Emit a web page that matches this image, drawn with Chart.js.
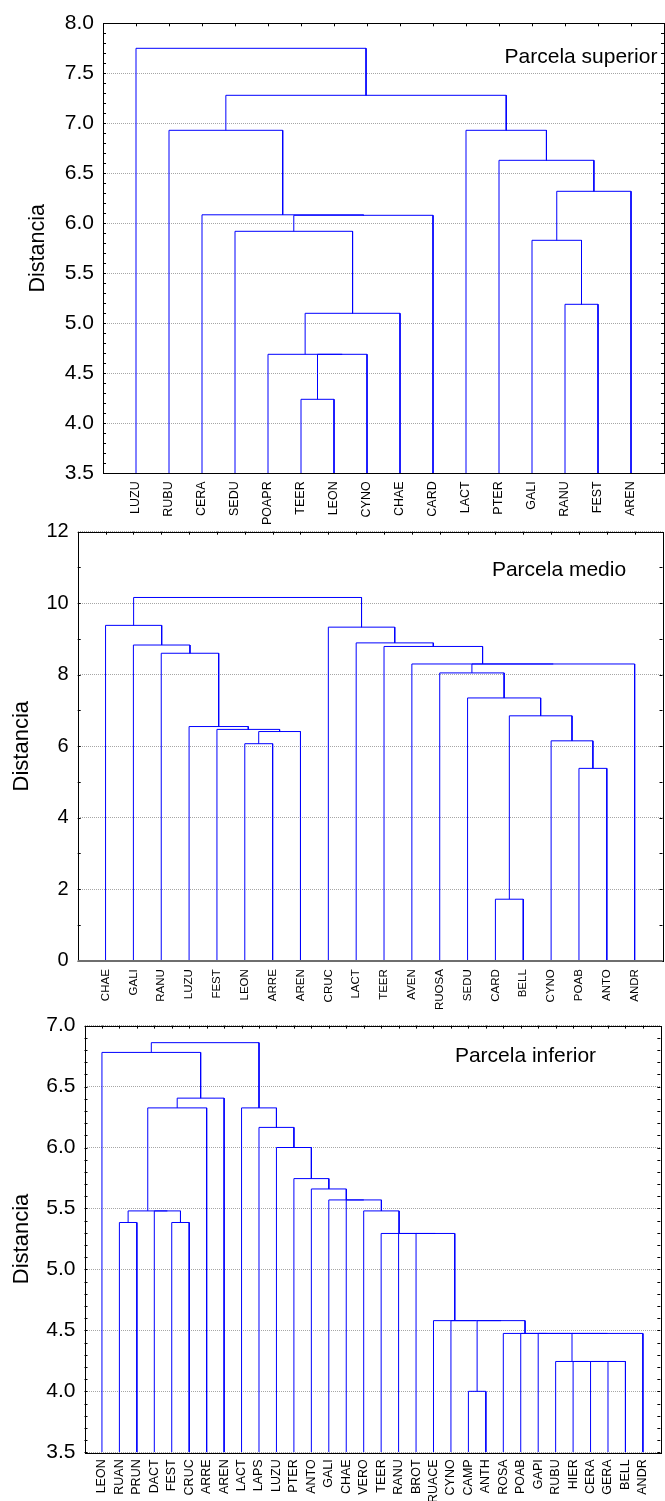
<!DOCTYPE html>
<html>
<head>
<meta charset="utf-8">
<script src="https://cdn.jsdelivr.net/npm/chart.js@4.4.0/dist/chart.umd.min.js"></script>
<style>
body { margin: 0; background: #fff; }
#wrap { position: relative; width: 665px; height: 1501px; overflow: hidden; }
canvas { position: absolute; left: 0; }
</style>
</head>
<body>
<div id="wrap">
  <canvas id="c1"></canvas>
  <canvas id="c2"></canvas>
  <canvas id="c3"></canvas>
</div>
<script>
// Parcela superior: leaves in plotted order, joins (leaf index or earlier join n+k) and join distances
const supLeaves = ['LUZU', 'RUBU', 'CERA', 'SEDU', 'POAPR', 'TEER', 'LEON', 'CYNO', 'CHAE', 'CARD',
                   'LACT', 'PTER', 'GALI', 'RANU', 'FEST', 'AREN'];
const supPairs = [[5, 6], [16, 7], [4, 17], [18, 8], [3, 19], [20, 9], [2, 21], [1, 22],
                  [13, 14], [12, 24], [25, 15], [11, 26], [10, 27], [23, 28], [0, 29]];
const supHeights = [4.24, 4.69, 4.69, 5.10, 5.92, 6.08, 6.085, 6.93,
                    5.19, 5.83, 6.32, 6.63, 6.93, 7.28, 7.75];

// Parcela medio
const medLeaves = ['CHAE', 'GALI', 'RANU', 'LUZU', 'FEST', 'LEON', 'ARRE', 'AREN', 'CRUC', 'LACT',
                   'TEER', 'AVEN', 'RUOSA', 'SEDU', 'CARD', 'BELL', 'CYNO', 'POAB', 'ANTO', 'ANDR'];
const medPairs = [[5, 6], [20, 7], [4, 21], [3, 22], [2, 23], [1, 24], [0, 25],
                  [17, 18], [16, 27], [14, 15], [29, 28], [13, 30], [12, 31], [32, 19],
                  [11, 33], [10, 34], [9, 35], [8, 36], [26, 37]];
const medHeights = [6.07, 6.41, 6.47, 6.55, 8.60, 8.83, 9.38,
                    5.38, 6.15, 1.72, 6.85, 7.35, 8.05, 8.30,
                    8.30, 8.79, 8.89, 9.33, 10.16];

// Parcela inferior
const infLeaves = ['LEON', 'RUAN', 'PRUN', 'DACT', 'FEST', 'CRUC', 'ARRE', 'AREN', 'LACT', 'LAPS',
                   'LUZU', 'PTER', 'ANTO', 'GALI', 'CHAE', 'VERO', 'TEER', 'RANU', 'BROT', 'RUACE',
                   'CYNO', 'CAMP', 'ANTH', 'ROSA', 'POAB', 'GAPI', 'RUBU', 'HIER', 'CERA', 'GERA',
                   'BELL', 'ANDR'];
const infPairs = [[1, 2], [4, 5], [3, 33], [32, 34], [35, 6], [36, 7], [0, 37],
                  [21, 22], [29, 30], [28, 40], [27, 41], [26, 42], [43, 31], [25, 44],
                  [24, 45], [23, 46], [39, 47], [20, 48], [19, 49], [18, 50], [17, 51],
                  [16, 52], [15, 53], [14, 54], [13, 55], [12, 56], [11, 57], [10, 58],
                  [9, 59], [8, 60], [38, 61]];
const infHeights = [5.385, 5.385, 5.48, 5.48, 6.325, 6.405, 6.78,
                    4.0, 4.245, 4.245, 4.245, 4.245, 4.475, 4.475,
                    4.475, 4.475, 4.58, 4.58, 4.58, 5.295, 5.295,
                    5.295, 5.48, 5.57, 5.57, 5.66, 5.745, 6.0,
                    6.165, 6.325, 6.86];

const FONT = "'Liberation Sans', Arial, sans-serif";
const BLUE = 'rgb(0, 0, 255)';

// page layout of the three stacked panels
const panels = [
    {id: 'c1', top: 0, height: 530, area: {left: 103, right: 664, top: 23.3, bottom: 473.3},
     leaves: supLeaves, pairs: supPairs, heights: supHeights,
     yMin: 3.5, yMax: 8, step: 0.5, minor: 0.1, dec: 1,
     tickSize: 21, leafSize: 12.5, leafPad: 8, titleSize: 21.5, titlePad: 25,
     note: 'Parcela superior', noteX: 581, noteY: 62.7, baseGray: false},
    {id: 'c2', top: 508, height: 506, area: {left: 77.7, right: 662.5, top: 531.7, bottom: 960.7},
     leaves: medLeaves, pairs: medPairs, heights: medHeights,
     yMin: 0, yMax: 12, step: 2, minor: 1, dec: 0,
     tickSize: 20, leafSize: 11.5, leafPad: 8.5, titleSize: 22, titlePad: 8.8,
     note: 'Parcela medio', noteX: 559, noteY: 575.7, baseGray: true},
    {id: 'c3', top: 1004, height: 497, area: {left: 84.5, right: 661.6, top: 1022.2, bottom: 1452.3},
     leaves: infLeaves, pairs: infPairs, heights: infHeights,
     yMin: 3.5, yMax: 7, step: 0.5, minor: 0.1, dec: 1,
     tickSize: 21, leafSize: 12.5, leafPad: 7, titleSize: 22, titlePad: 8.8,
     note: 'Parcela inferior', noteX: 525.5, noteY: 1061.7, baseGray: false}
];

// each join drawn as a bracket: up from both children to the join distance
function buildLinks(leaves, pairs, heights, base) {
    let pos = leaves.map((_, i) => i + 1);
    let top = leaves.map(() => base);
    let links = [];
    pairs.forEach(([a, b], k) => {
        let h = heights[k];
        links.push([
            {x: pos[a], y: top[a]}, {x: pos[a], y: h},
            {x: pos[b], y: h}, {x: pos[b], y: top[b]}
        ]);
        pos.push((pos[a] + pos[b]) / 2);
        top.push(h);
    });
    return links;
}

function framePlugin(p) {
    return {
        id: 'frame' + p.id,
        afterDraw(chart) {
            const {ctx, chartArea: a, scales: {x, y}} = chart;
            ctx.save();
            ctx.strokeStyle = '#000';
            ctx.lineWidth = 1;
            ctx.beginPath();
            let n = Math.round((p.yMax - p.yMin) / p.minor);
            for (let i = 0; i <= n; i++) {
                let py = Math.round(y.getPixelForValue(p.yMin + i * p.minor)) + 0.5;
                ctx.moveTo(a.left, py); ctx.lineTo(a.left + 3, py);
                ctx.moveTo(a.right, py); ctx.lineTo(a.right - 3, py);
            }
            for (let i = 1; i <= p.leaves.length; i++) {
                let px = Math.round(x.getPixelForValue(i)) + 0.5;
                ctx.moveTo(px, a.top); ctx.lineTo(px, a.top + 3);
            }
            ctx.stroke();
            ctx.strokeRect(Math.round(a.left) + 0.5, Math.round(a.top) + 0.5,
                Math.round(a.right - a.left), Math.round(a.bottom - a.top));
            if (p.baseGray) {
                ctx.strokeStyle = '#6e6e6e';
                ctx.lineWidth = 2;
                ctx.beginPath();
                ctx.moveTo(a.left, Math.round(a.bottom));
                ctx.lineTo(a.right, Math.round(a.bottom));
                ctx.stroke();
            }
            ctx.fillStyle = '#000';
            ctx.font = '21px ' + FONT;
            ctx.textAlign = 'center';
            ctx.textBaseline = 'alphabetic';
            ctx.fillText(p.note, p.noteX, p.noteY - p.top);
            ctx.restore();
        }
    };
}

panels.forEach(p => {
    const canvas = document.getElementById(p.id);
    canvas.width = 665;
    canvas.height = p.height;
    canvas.style.top = p.top + 'px';
    const links = buildLinks(p.leaves, p.pairs, p.heights, p.yMin);
    const areaTop = p.area.top - p.top;
    const areaBottom = p.area.bottom - p.top;

    new Chart(canvas, {
        type: 'scatter',
        data: {
            datasets: links.map(pts => ({
                data: pts,
                showLine: true,
                borderColor: BLUE,
                borderWidth: 1,
                pointRadius: 0,
                fill: false,
                tension: 0
            }))
        },
        options: {
            responsive: false,
            animation: false,
            events: [],
            layout: {padding: {top: areaTop, right: 665 - p.area.right, left: 0, bottom: 0}},
            plugins: {legend: {display: false}, tooltip: {enabled: false}},
            scales: {
                x: {
                    type: 'linear',
                    min: 0,
                    max: p.leaves.length + 1,
                    grid: {display: false, drawTicks: false},
                    border: {display: false},
                    afterBuildTicks: s => { s.ticks = p.leaves.map((_, i) => ({value: i + 1})); },
                    afterFit: s => { s.height = p.height - areaBottom; },
                    ticks: {
                        autoSkip: false,
                        minRotation: 90,
                        maxRotation: 90,
                        padding: p.leafPad,
                        color: '#000',
                        font: {family: FONT, size: p.leafSize},
                        callback: v => p.leaves[Math.round(v) - 1]
                    }
                },
                y: {
                    type: 'linear',
                    min: p.yMin,
                    max: p.yMax,
                    afterFit: s => { s.width = p.area.left; },
                    grid: {color: 'rgba(0,0,0,0.35)', drawTicks: false},
                    border: {display: false, dash: [1, 1]},
                    ticks: {
                        stepSize: p.step,
                        padding: 9,
                        color: '#000',
                        font: {family: FONT, size: p.tickSize},
                        callback: v => v.toFixed(p.dec)
                    },
                    title: {
                        display: true,
                        text: 'Distancia',
                        color: '#000',
                        font: {family: FONT, size: p.titleSize},
                        padding: {top: p.titlePad, bottom: 0}
                    }
                }
            }
        },
        plugins: [framePlugin(p)]
    });
});
</script>
</body>
</html>
